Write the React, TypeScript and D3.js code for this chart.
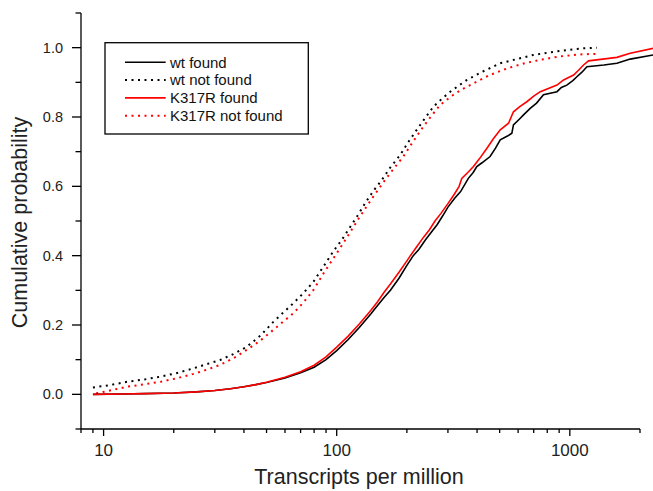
import React from 'react';
import * as d3 from 'd3';

type P = [number, number];

const wtFound: P[] = [[9,0.0],[12,0.001],[15,0.002],[20,0.004],[25,0.007],[30,0.011],[35,0.016],[40,0.022],[45,0.028],[50,0.034],[60,0.047],[70,0.062],[80,0.078],[90,0.1],[100,0.126],[112,0.158],[125,0.193],[140,0.232],[150,0.257],[160,0.28],[170,0.3],[185,0.335],[200,0.372],[213,0.4],[225,0.418],[240,0.445],[255,0.468],[270,0.49],[285,0.515],[300,0.54],[320,0.565],[340,0.585],[367,0.623],[385,0.64],[399,0.657],[420,0.668],[455,0.686],[480,0.71],[503,0.734],[540,0.745],[564,0.753],[573,0.777],[610,0.795],[633,0.806],[676,0.825],[720,0.84],[771,0.864],[881,0.873],[920,0.885],[971,0.892],[1030,0.905],[1072,0.916],[1130,0.93],[1184,0.945],[1400,0.95],[1592,0.955],[1816,0.967],[2281,0.979]];

const k317rFound: P[] = [[9,0.0],[12,0.001],[15,0.002],[20,0.004],[25,0.007],[30,0.011],[35,0.016],[40,0.022],[45,0.028],[50,0.035],[60,0.049],[70,0.065],[80,0.084],[90,0.108],[100,0.136],[112,0.168],[125,0.203],[140,0.242],[150,0.268],[160,0.295],[170,0.318],[185,0.352],[200,0.385],[207,0.4],[220,0.425],[235,0.452],[250,0.475],[264,0.5],[280,0.522],[300,0.55],[320,0.578],[335,0.6],[344,0.623],[365,0.64],[386,0.657],[410,0.68],[441,0.71],[470,0.737],[503,0.763],[546,0.782],[573,0.815],[610,0.83],[654,0.844],[700,0.86],[747,0.873],[881,0.892],[940,0.907],[1038,0.921],[1090,0.935],[1145,0.95],[1203,0.962],[1592,0.972],[1816,0.984],[2281,0.998]];

const wtNotFound: P[] = [[9,0.02],[10.5,0.026],[12.6,0.036],[15,0.043],[17.5,0.051],[20.5,0.061],[24.3,0.075],[28,0.088],[31.6,0.099],[36,0.116],[41.1,0.137],[47,0.169],[53.5,0.209],[59,0.236],[65.2,0.263],[72,0.292],[79.5,0.325],[88,0.37],[96.8,0.413],[105,0.445],[113,0.478],[122,0.512],[132,0.55],[143,0.585],[156,0.618],[170,0.655],[187,0.69],[203,0.728],[220,0.762],[240,0.798],[260,0.83],[283,0.853],[307,0.873],[333,0.89],[362,0.907],[420,0.93],[503,0.955],[600,0.968],[697,0.979],[830,0.987],[971,0.993],[1130,0.998],[1306,1.0]];

const k317rNotFound: P[] = [[9.3,0.003],[10.5,0.01],[12.6,0.022],[15,0.029],[17.5,0.036],[20.5,0.046],[24.3,0.059],[28,0.072],[31.6,0.085],[36,0.104],[41.1,0.128],[47,0.155],[53.5,0.186],[59,0.21],[65.2,0.234],[72,0.265],[79.5,0.301],[88,0.35],[100,0.407],[110,0.45],[125,0.51],[140,0.56],[161,0.618],[176,0.652],[193,0.686],[213,0.73],[235,0.772],[256,0.805],[278,0.835],[310,0.86],[345,0.88],[386,0.897],[450,0.92],[537,0.94],[640,0.955],[747,0.965],[890,0.974],[1038,0.979],[1150,0.981],[1297,0.982]];

const xMajorTicks = [10, 100, 1000];
const xMinorTicks = [8, 9, 20, 30, 40, 50, 60, 70, 80, 90, 200, 300, 400, 500, 600, 700, 800, 900, 2000];
const yMajorTicks = [0, 0.2, 0.4, 0.6, 0.8, 1.0];
const yMinorTicks = [-0.1, 0.1, 0.3, 0.5, 0.7, 0.9, 1.1];

const legendLabels = ['wt found', 'wt not found', 'K317R found', 'K317R not found'];
const xTitle = 'Transcripts per million';
const yTitle = 'Cumulative probability';

const FONT = "'Liberation Sans', Arial, sans-serif";
const RED = '#ff0000';

export default function App() {
  const W = 653, H = 491;
  const x = d3.scaleLog().domain([8, 2000]).range([81, 640]);
  const y = d3.scaleLinear().domain([-0.1, 1.1]).range([429, 13]);
  const line = d3.line<P>().x(d => x(d[0])).y(d => y(d[1]));

  const series = [
    { data: wtNotFound, color: '#000', dash: '2,4.5', w: 2 },
    { data: k317rNotFound, color: RED, dash: '2,4.5', w: 2 },
    { data: wtFound, color: '#000', dash: undefined, w: 1.6 },
    { data: k317rFound, color: RED, dash: undefined, w: 1.6 },
  ];
  const legendStyles = [
    { color: '#000', dash: undefined, w: 1.6 },
    { color: '#000', dash: '2,4.5', w: 2 },
    { color: RED, dash: undefined, w: 1.6 },
    { color: RED, dash: '2,4.5', w: 2 },
  ];

  const x0 = x.range()[0], x1 = x.range()[1];
  const yb = y(-0.1), yt = y(1.1);

  return (
    <svg width={W} height={H} style={{ position: 'absolute', left: 0, top: 0, background: '#fff' }} fontFamily={FONT}>
      <rect x={0} y={0} width={W} height={H} fill="#fff" />
      {/* axes */}
      <line x1={x0} x2={x0} y1={yt} y2={yb} stroke="#000" strokeWidth={1.3} />
      <line x1={x0} x2={x1} y1={yb} y2={yb} stroke="#000" strokeWidth={1.3} />
      {yMajorTicks.map(t => (
        <g key={'ym' + t}>
          <line x1={x0 - 9} x2={x0} y1={y(t)} y2={y(t)} stroke="#000" strokeWidth={1.3} />
          <text x={63} y={y(t) + 5} textAnchor="end" fontSize={14.5} fill="#222">{t.toFixed(1)}</text>
        </g>
      ))}
      {yMinorTicks.map(t => (
        <line key={'yn' + t} x1={x0 - 5.5} x2={x0} y1={y(t)} y2={y(t)} stroke="#000" strokeWidth={1.3} />
      ))}
      {xMajorTicks.map(t => (
        <g key={'xm' + t}>
          <line x1={x(t)} x2={x(t)} y1={yb} y2={yb + 7} stroke="#000" strokeWidth={1.3} />
          <text x={x(t)} y={456} textAnchor="middle" fontSize={17} fill="#222">{t}</text>
        </g>
      ))}
      {xMinorTicks.map(t => (
        <line key={'xn' + t} x1={x(t)} x2={x(t)} y1={yb} y2={yb + 4} stroke="#000" strokeWidth={1.3} />
      ))}
      <text x={359} y={484} textAnchor="middle" fontSize={21.5} fill="#222">{xTitle}</text>
      <text transform={`translate(27,222.5) rotate(-90)`} textAnchor="middle" fontSize={21.5} fill="#222">{yTitle}</text>

      {/* curves */}
      {series.map((s, i) => (
        <path key={i} d={line(s.data) || ''} fill="none" stroke={s.color} strokeWidth={s.w} strokeDasharray={s.dash} />
      ))}

      {/* legend */}
      <rect x={105} y={42.7} width={203.3} height={91.3} fill="#fff" stroke="#000" strokeWidth={1.3} />
      {legendLabels.map((lab, i) => {
        const ry = 62.3 + i * 17.8;
        const st = legendStyles[i];
        return (
          <g key={lab}>
            <line x1={125} x2={165.7} y1={ry} y2={ry} stroke={st.color} strokeWidth={st.w} strokeDasharray={st.dash} />
            <text x={170} y={ry + 5.3} fontSize={15} fill="#111">{lab}</text>
          </g>
        );
      })}
    </svg>
  );
}
